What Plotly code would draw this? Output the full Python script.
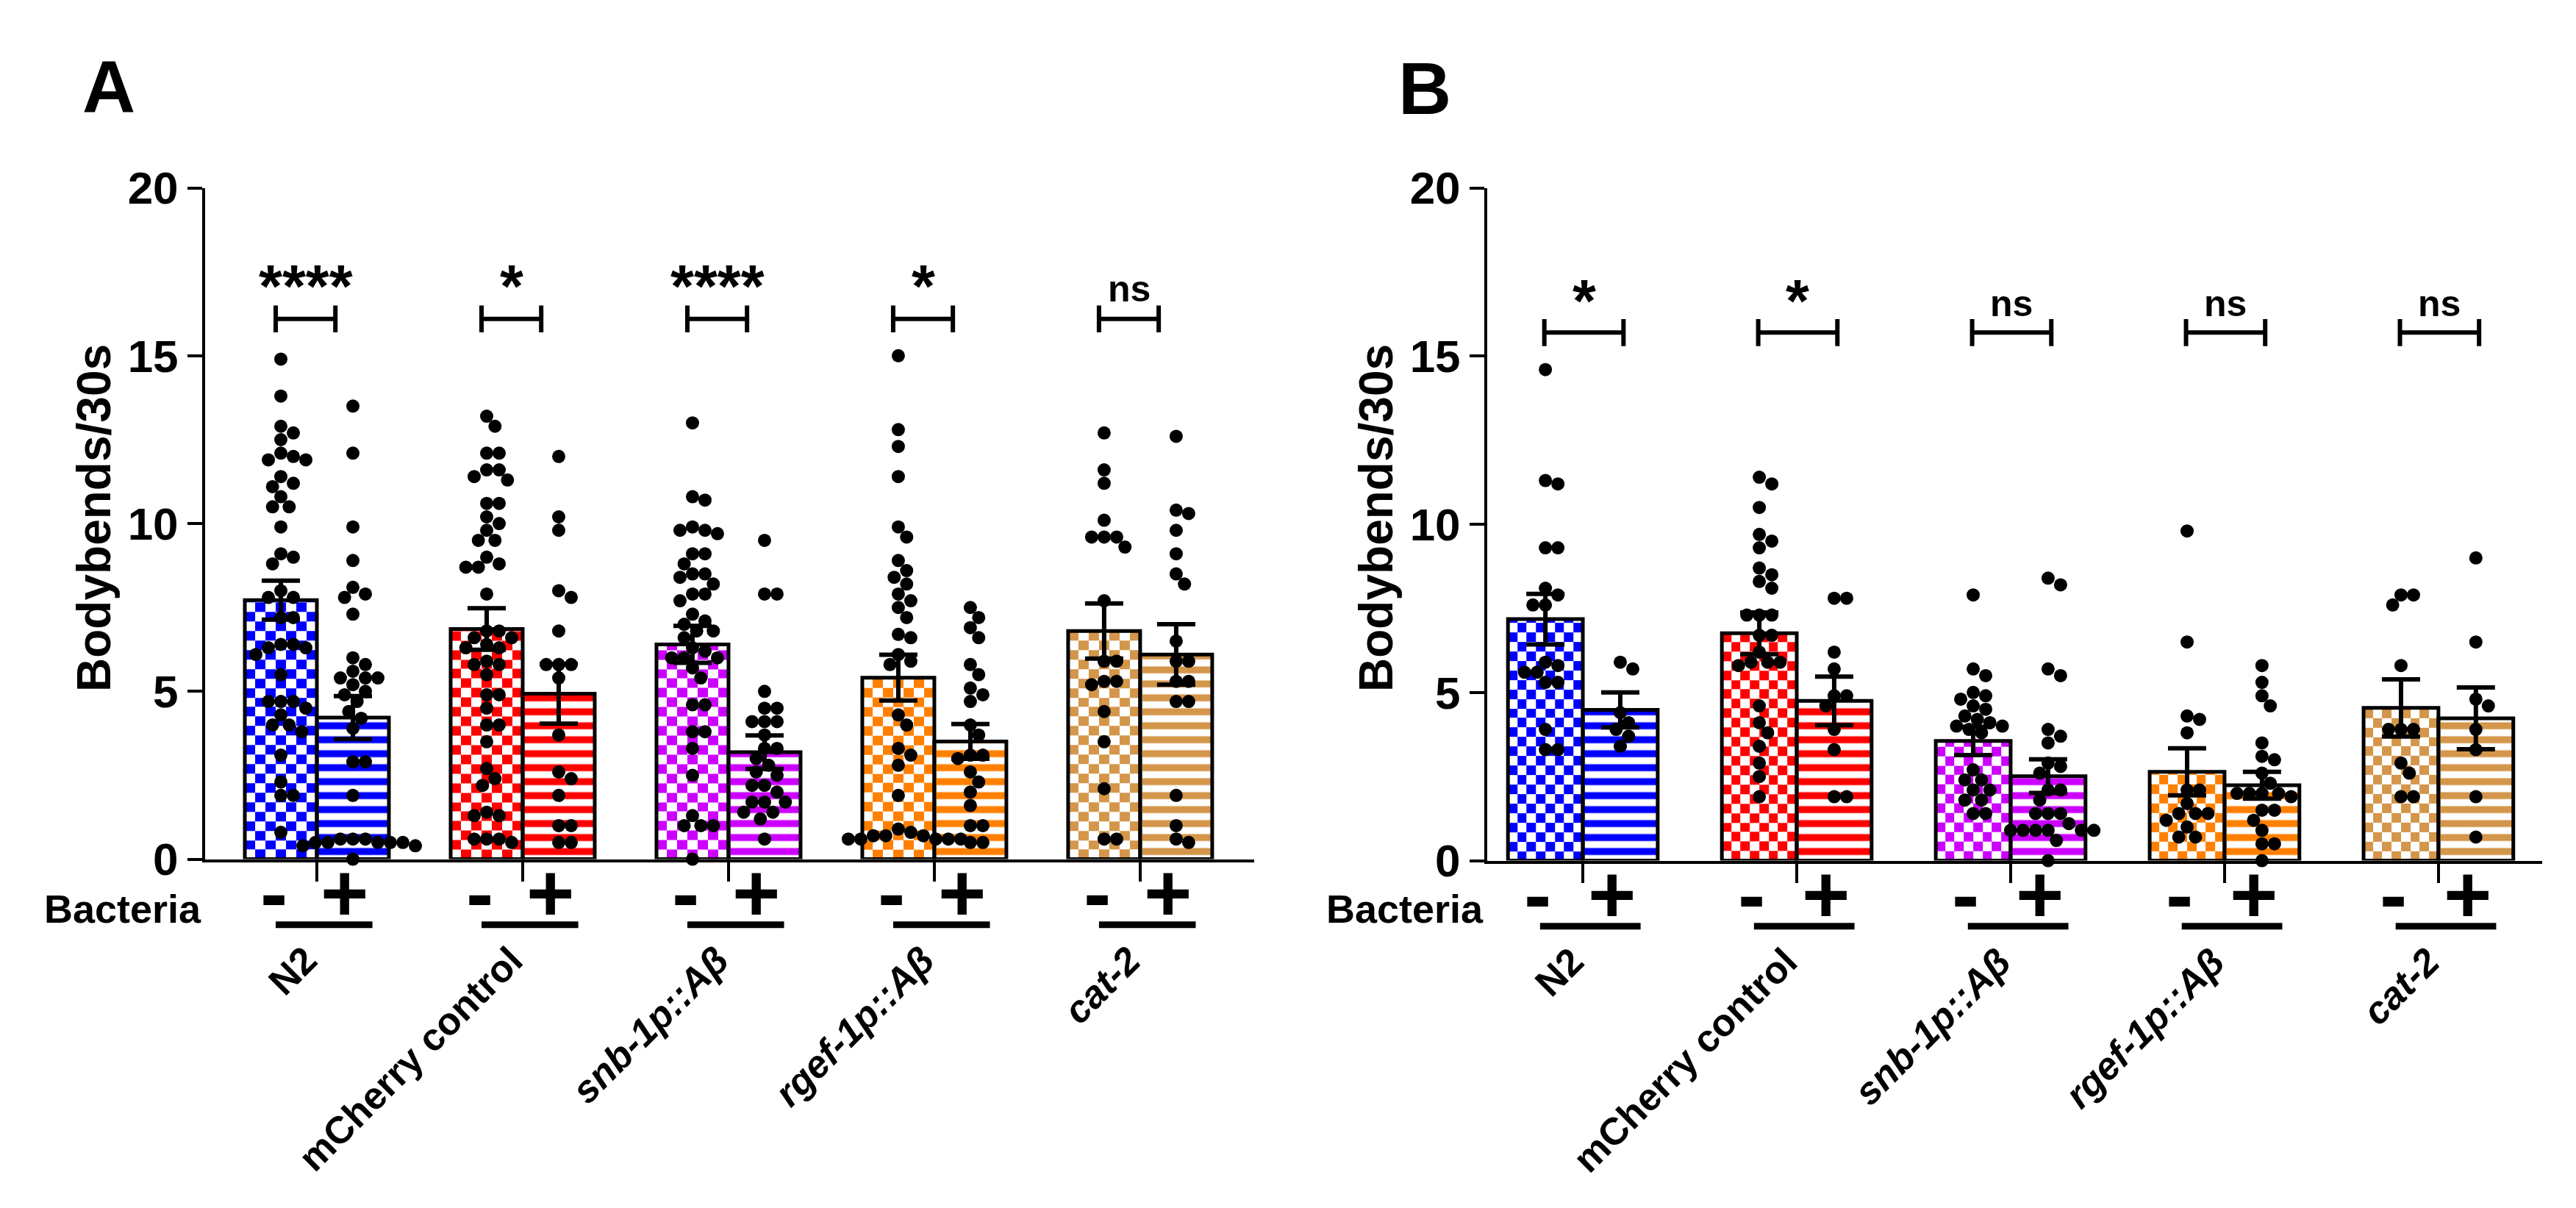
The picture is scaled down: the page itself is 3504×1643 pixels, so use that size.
import numpy as np
import plotly.graph_objects as go

W, H = 3504, 1643
FONT = "Arial, Liberation Sans, sans-serif"

groups = ["N2", "mCherry control", "snb-1p::Aβ", "rgef-1p::Aβ", "cat-2"]
group_italic = [False, False, True, True, True]
colors = ["#0000FF", "#FF0000", "#CC00FF", "#FF8000", "#D4964A"]
yticks = [0, 5, 10, 15, 20]

# ---- panel A ----
a_mean_minus = [7.72, 6.86, 6.40, 5.41, 6.80]
a_sem_minus = [0.58, 0.62, 0.55, 0.68, 0.82]
a_mean_plus = [4.22, 4.93, 3.19, 3.51, 6.10]
a_sem_plus = [0.64, 0.89, 0.50, 0.52, 0.90]
a_sig = ["****", "*", "****", "*", "ns"]

a_n2_minus = [14.9, 13.8, 12.9, 12.7, 12.5, 12.1, 12.0, 11.9, 11.9, 11.4, 11.2, 11.1, 10.8, 10.5, 10.5,
              9.9, 9.1, 9.0, 8.8, 8.0, 7.8, 7.8, 7.2, 7.2, 6.4, 6.4, 6.3, 6.3, 6.1, 5.5, 4.7, 4.7, 4.7,
              4.5, 4.3, 4.0, 4.0, 3.8, 3.1, 2.3, 1.9, 1.9, 0.8]
a_n2_plus = [13.5, 12.1, 9.9, 8.9, 8.1, 7.9, 7.8, 7.3, 6.0, 5.8, 5.6, 5.4, 5.4, 5.4, 5.2, 5.0, 4.9, 4.7,
             4.4, 4.2, 3.9, 2.9, 2.9, 1.9, 0.6, 0.6, 0.6, 0.5, 0.5, 0.5, 0.5, 0.5, 0.4, 0.4, 0.0]
a_mch_minus = [13.2, 12.9, 12.1, 12.1, 11.6, 11.6, 11.4, 11.3, 10.6, 10.6, 10.2, 10.0, 9.8, 9.5, 9.5,
               9.0, 8.8, 8.7, 8.7, 7.9, 6.8, 6.8, 6.6, 6.6, 6.4, 6.3, 6.3, 5.9, 5.8, 5.8, 5.5, 4.9, 4.9,
               4.5, 4.0, 4.0, 3.5, 2.7, 2.4, 2.2, 1.4, 1.3, 1.3, 0.6, 0.6, 0.6, 0.5]
a_mch_plus = [12.0, 10.2, 9.8, 8.0, 7.8, 6.8, 5.8, 5.8, 5.8, 5.4, 3.7, 2.6, 2.4, 1.9, 1.0, 1.0, 0.5, 0.5]
a_snb_minus = [13.0, 10.8, 10.7, 9.9, 9.8, 9.8, 9.7, 9.1, 9.1, 8.8, 8.5, 8.5, 8.4, 8.2, 7.9, 7.9, 7.7,
               7.3, 7.1, 7.0, 6.8, 6.8, 6.6, 6.3, 6.2, 6.0, 6.0, 6.0, 5.7, 5.4, 4.6, 4.6, 3.8, 3.8, 3.3,
               2.5, 1.3, 1.0, 1.0, 1.0, 0.0]
a_snb_plus = [9.5, 7.9, 7.9, 5.0, 4.5, 4.5, 4.1, 4.1, 4.1, 3.7, 3.3, 3.3, 3.0, 2.8, 2.6, 2.5, 2.2, 2.2,
              2.0, 1.7, 1.7, 1.7, 1.4, 1.4, 1.2, 0.6]
a_rgef_minus = [15.0, 12.8, 12.3, 11.4, 9.9, 9.6, 8.9, 8.6, 8.4, 8.2, 7.9, 7.7, 7.5, 7.2, 6.7, 6.6, 6.1,
                5.9, 5.8, 4.3, 4.0, 3.3, 3.1, 2.8, 1.9, 0.9, 0.8, 0.7, 0.7, 0.7, 0.6, 0.6, 0.6, 0.6, 0.6]
a_rgef_plus = [7.5, 7.2, 6.9, 6.6, 5.8, 5.5, 5.1, 4.9, 4.7, 4.0, 3.7, 3.1, 3.1, 3.0, 2.6, 2.3, 2.0, 1.6,
               1.0, 1.0, 0.5, 0.5]
a_cat_minus = [12.7, 11.6, 11.2, 10.1, 9.6, 9.6, 9.6, 9.3, 7.7, 5.9, 5.9, 5.3, 5.3, 5.2, 4.4, 3.5, 2.1,
               0.6, 0.6]
a_cat_plus = [12.6, 10.4, 10.3, 9.8, 9.1, 8.5, 8.2, 6.5, 5.9, 5.9, 5.3, 5.3, 4.7, 4.7, 1.9, 1.0, 0.6, 0.5]

# ---- panel B ----
b_mean_minus = [7.18, 6.76, 3.56, 2.64, 4.54]
b_sem_minus = [0.75, 0.62, 0.42, 0.70, 0.85]
b_mean_plus = [4.48, 4.75, 2.51, 2.24, 4.23]
b_sem_plus = [0.52, 0.72, 0.50, 0.40, 0.92]
b_sig = ["*", "*", "ns", "ns", "ns"]

b_n2_minus = [14.6, 11.3, 11.2, 9.3, 9.3, 8.1, 7.9, 7.6, 7.6, 5.9, 5.8, 5.6, 5.6, 5.3, 5.3, 3.9, 3.3, 3.3]
b_n2_plus = [5.9, 5.7, 4.4, 4.1, 3.9, 3.7, 3.4]
b_mch_minus = [11.4, 11.2, 10.5, 9.7, 9.5, 9.3, 8.7, 8.5, 8.3, 8.1, 7.3, 7.3, 7.3, 6.7, 6.7, 6.2, 5.9,
               5.9, 5.9, 5.8, 4.6, 4.1, 3.8, 3.4, 2.9, 2.5, 1.9]
b_mch_plus = [7.8, 7.8, 6.2, 5.7, 4.9, 4.9, 4.6, 3.9, 3.3, 1.9, 1.9]
b_snb_minus = [7.9, 5.7, 5.5, 5.0, 4.9, 4.8, 4.6, 4.5, 4.3, 4.2, 4.1, 4.0, 4.0, 3.9, 3.8, 2.7, 2.4, 2.4,
               2.1, 2.1, 1.8, 1.8, 1.4, 1.4]
b_snb_plus = [8.4, 8.2, 5.7, 5.5, 3.9, 3.7, 3.5, 2.9, 2.8, 2.6, 2.1, 2.1, 1.8, 1.4, 1.4, 1.4, 1.1, 0.9,
              0.9, 0.9, 0.9, 0.9, 0.9, 0.6, 0.0]
b_rgef_minus = [9.8, 6.5, 4.3, 4.2, 3.8, 2.1, 2.1, 1.7, 1.4, 1.4, 1.4, 1.2, 1.0, 0.7, 0.7]
b_rgef_plus = [5.8, 5.3, 4.9, 4.6, 3.5, 3.1, 3.0, 2.6, 2.3, 2.0, 2.0, 2.0, 2.0, 1.9, 1.5, 1.5, 1.2, 0.9,
               0.5, 0.5, 0.0]
b_cat_minus = [7.9, 7.9, 7.6, 5.8, 3.9, 3.9, 3.9, 2.9, 2.6, 1.9, 1.9]
b_cat_plus = [9.0, 6.5, 4.8, 4.6, 3.9, 3.3, 1.9, 0.7]

HALF = 0.175  # half spacing between the -/+ bars, in group units
BARW = 0.35

panels = [
    dict(name="A", xa="x", ya="y", px=(271, 1698), xr=(-0.543, 4.554), py=(1176, 223),
         mean_m=a_mean_minus, sem_m=a_sem_minus, mean_p=a_mean_plus, sem_p=a_sem_plus, sig=a_sig,
         pts_m=[a_n2_minus, a_mch_minus, a_snb_minus, a_rgef_minus, a_cat_minus],
         pts_p=[a_n2_plus, a_mch_plus, a_snb_plus, a_rgef_plus, a_cat_plus],
         br=(-0.2, 0.09, 16.1, 17.0), letter=(140, 79)),
    dict(name="B", xa="x2", ya="y2", px=(2015, 3450), xr=(-0.447, 4.485), py=(1178, 223),
         mean_m=b_mean_minus, sem_m=b_sem_minus, mean_p=b_mean_plus, sem_p=b_sem_plus, sig=b_sig,
         pts_m=[b_n2_minus, b_mch_minus, b_snb_minus, b_rgef_minus, b_cat_minus],
         pts_p=[b_n2_plus, b_mch_plus, b_snb_plus, b_rgef_plus, b_cat_plus],
         br=(-0.18, 0.19, 15.7, 16.55), letter=(1930, 81)),
]


def swarm(vals, center, ppx, ppy, d=17.0):
    placed, xs = [], []
    cands = [0.0]
    for k in range(1, 60):
        cands += [k * d / 3, -k * d / 3]
    for v in vals:
        y = v * ppy
        for c in cands:
            if all((c - qx) ** 2 + (y - qy) ** 2 >= d * d for qx, qy in placed):
                break
        placed.append((c, y))
        xs.append(center + c / ppx)
    return xs


fig = go.Figure()
shapes, annos = [], []
xg = np.arange(len(groups))

for p in panels:
    ppx = (p["px"][1] - p["px"][0]) / (p["xr"][1] - p["xr"][0])
    ppy = (p["py"][0] - p["py"][1]) / 20.0

    def yp(v, p=p):
        # data value -> paper fraction (lets us place things below the axis)
        return 1 - (p["py"][0] - v * (p["py"][0] - p["py"][1]) / 20.0) / H

    xm = xg - HALF
    xp = xg + HALF

    # checkerboard fill of the "-" bars
    cell = 13.5
    for i in range(len(groups)):
        ncol = int(round(BARW * ppx / cell))
        xe = np.linspace(xm[i] - BARW / 2, xm[i] + BARW / 2, ncol + 1)
        ye = list(np.arange(0, p["mean_m"][i], cell / ppy)) + [p["mean_m"][i]]
        z = [[(r + c) % 2 for c in range(ncol)] for r in range(len(ye) - 1)]
        fig.add_trace(go.Heatmap(x=xe, y=ye, z=z, zmin=0, zmax=1, showscale=False,
                                 colorscale=[[0, "white"], [1, colors[i]]], hoverinfo="skip",
                                 xaxis=p["xa"], yaxis=p["ya"]))

    err = dict(type="data", color="black", thickness=6, width=26)
    fig.add_trace(go.Bar(x=xm, y=p["mean_m"], width=BARW, xaxis=p["xa"], yaxis=p["ya"],
                         marker=dict(color="rgba(0,0,0,0)", line=dict(color="black", width=5)),
                         error_y=dict(array=p["sem_m"], **err), showlegend=False))
    fig.add_trace(go.Bar(x=xp, y=p["mean_p"], width=BARW, xaxis=p["xa"], yaxis=p["ya"],
                         marker=dict(color=colors, line=dict(color="black", width=5),
                                     pattern=dict(shape="-", fgcolor="white", bgcolor=colors,
                                                  fgopacity=1, size=19, solidity=0.5,
                                                  fillmode="replace")),
                         error_y=dict(array=p["sem_p"], **err), showlegend=False))

    # individual worms
    dx, dy = [], []
    for i in range(len(groups)):
        dx += swarm(p["pts_m"][i], xm[i], ppx, ppy)
        dy += p["pts_m"][i]
        dx += swarm(p["pts_p"][i], xp[i], ppx, ppy)
        dy += p["pts_p"][i]
    fig.add_trace(go.Scatter(x=dx, y=dy, mode="markers", xaxis=p["xa"], yaxis=p["ya"],
                             marker=dict(color="black", size=18, line=dict(width=0)),
                             cliponaxis=False, showlegend=False, hoverinfo="skip"))

    # significance brackets
    b0, b1, by, ty = p["br"]
    for i in range(len(groups)):
        for seg in [(xg[i] + b0, by, xg[i] + b1, by), (xg[i] + b0, by - 0.4, xg[i] + b0, by + 0.4),
                    (xg[i] + b1, by - 0.4, xg[i] + b1, by + 0.4)]:
            shapes.append(dict(type="line", xref=p["xa"], yref=p["ya"], x0=seg[0], y0=seg[1],
                               x1=seg[2], y1=seg[3], line=dict(color="black", width=6)))
        s = p["sig"][i]
        star = s != "ns"
        annos.append(dict(x=xg[i] + (b0 + b1) / 2, y=ty + (0.1 if star else 0), xref=p["xa"],
                          yref=p["ya"], text=s, showarrow=False, xanchor="center", yanchor="middle",
                          font=dict(family=FONT, size=82 if star else 50, color="black",
                                    weight="bold")))
        # -/+ signs under each bar
        for xx, t in [(xm[i] - 0.035, "-"), (xp[i] - 0.04, "+")]:
            annos.append(dict(x=xx, y=yp(-1.0), xref=p["xa"], yref="paper", text=t, showarrow=False,
                              xanchor="center", yanchor="middle",
                              font=dict(family=FONT, size=112, color="black", weight="bold")))
        # group underline and rotated label
        shapes.append(dict(type="line", xref=p["xa"], yref="paper", x0=xg[i] - 0.2, x1=xg[i] + 0.27,
                           y0=yp(-1.95), y1=yp(-1.95), line=dict(color="black", width=9)))
        annos.append(dict(x=xg[i] + 0.05, y=yp(-2.3), xref=p["xa"], yref="paper", text=groups[i],
                          showarrow=False, textangle=-45, xanchor="right", yanchor="top",
                          font=dict(family=FONT, size=52, color="black", weight="bold",
                                    style="italic" if group_italic[i] else "normal")))

    annos.append(dict(x=(p["px"][0] - 3) / W, y=1 - 1246 / H, xref="paper", yref="paper",
                      text="Bacteria", showarrow=False, xanchor="right", yanchor="middle",
                      font=dict(family=FONT, size=54, color="black", weight="bold")))
    annos.append(dict(x=(p["px"][0] - 151) / W, y=1 - 692 / H, xref="paper", yref="paper",
                      text="Bodybends/30s", showarrow=False, textangle=-90, xanchor="center",
                      yanchor="middle",
                      font=dict(family=FONT, size=64, color="black", weight="bold")))
    annos.append(dict(x=p["letter"][0] / W, y=1 - p["letter"][1] / H, xref="paper", yref="paper",
                      text=p["name"], showarrow=False, xanchor="center", yanchor="middle",
                      font=dict(family=FONT, size=100, color="black", weight="bold")))

axis_x = dict(showline=True, linecolor="black", linewidth=4, ticks="outside", ticklen=26,
              tickwidth=4, tickcolor="black", tickvals=list(xg), showticklabels=False,
              showgrid=False, zeroline=False)
axis_y = dict(showline=True, linecolor="black", linewidth=4, ticks="outside", ticklen=20,
              tickwidth=4, tickcolor="black", tickvals=yticks, range=[0, 20], showgrid=False,
              zeroline=False, tickfont=dict(family=FONT, size=62, color="black", weight="bold"))

pa, pb = panels
fig.update_layout(
    width=W, height=H, autosize=False, margin=dict(l=0, r=0, t=0, b=0),
    plot_bgcolor="white", paper_bgcolor="white", barmode="overlay", showlegend=False,
    xaxis=dict(axis_x, domain=[pa["px"][0] / W, pa["px"][1] / W], range=list(pa["xr"]), anchor="y"),
    yaxis=dict(axis_y, domain=[1 - pa["py"][0] / H, 1 - pa["py"][1] / H], anchor="x"),
    xaxis2=dict(axis_x, domain=[pb["px"][0] / W, pb["px"][1] / W], range=list(pb["xr"]), anchor="y2"),
    yaxis2=dict(axis_y, domain=[1 - pb["py"][0] / H, 1 - pb["py"][1] / H], anchor="x2"),
    shapes=shapes, annotations=annos,
)

fig.write_html("out.html")
